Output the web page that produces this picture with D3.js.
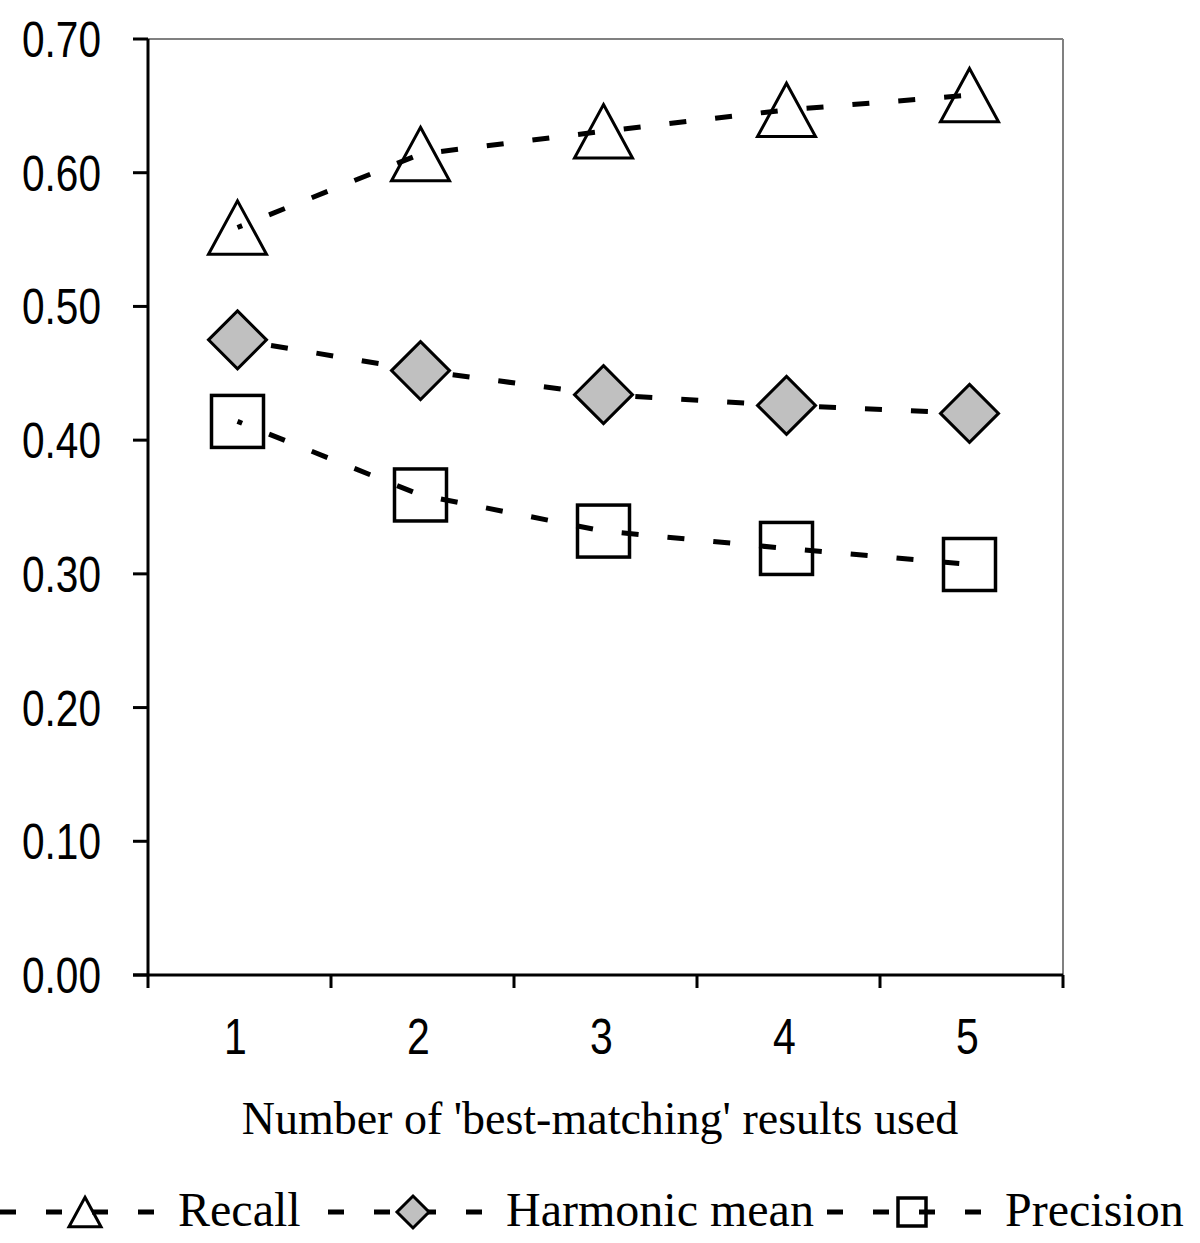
<!DOCTYPE html>
<html><head><meta charset="utf-8">
<script src="https://cdn.jsdelivr.net/npm/d3@7"></script>
<style>body{margin:0;background:#fff}</style>
</head><body>
<svg id="c" width="1200" height="1243"></svg>
<script>
const categories = [1, 2, 3, 4, 5];
const recall = [0.559, 0.614, 0.631, 0.647, 0.658];
const harmonic = [0.475, 0.452, 0.434, 0.426, 0.420];
const precision = [0.414, 0.359, 0.332, 0.319, 0.307];
const yTicks = [0, 0.1, 0.2, 0.3, 0.4, 0.5, 0.6, 0.7];
const seriesNames = ["Recall", "Harmonic mean", "Precision"];
const xTitle = "Number of 'best-matching' results used";

const svg = d3.select("#c");
const L = 148, R = 1063, T = 39, B = 975;
const x = d3.scaleBand().domain(categories).range([L, R]);
const y = d3.scaleLinear().domain([0, 0.7]).range([B, T]);
const numFont = "'Liberation Sans',Arial,sans-serif";
const serif = "'Liberation Serif','Times New Roman',serif";

// frame top/right gray
svg.append("line").attr("x1", L).attr("x2", R).attr("y1", T).attr("y2", T).attr("stroke", "#808080").attr("stroke-width", 2);
svg.append("line").attr("x1", R).attr("x2", R).attr("y1", T).attr("y2", B).attr("stroke", "#808080").attr("stroke-width", 2);

// y axis
const gy = svg.append("g");
gy.append("line").attr("x1", L).attr("x2", L).attr("y1", T).attr("y2", B).attr("stroke", "#000").attr("stroke-width", 3);
yTicks.forEach(v => {
  gy.append("line").attr("x1", L - 15).attr("x2", L).attr("y1", y(v)).attr("y2", y(v)).attr("stroke", "#000").attr("stroke-width", 3);
  gy.append("text").attr("x", 22).attr("y", y(v) + 18)
    .attr("textLength", 79).attr("lengthAdjust", "spacingAndGlyphs")
    .attr("font-family", numFont).attr("font-size", 50).text(v.toFixed(2));
});

// x axis
const gx = svg.append("g");
gx.append("line").attr("x1", L - 15).attr("x2", R).attr("y1", B).attr("y2", B).attr("stroke", "#000").attr("stroke-width", 3);
const bounds = categories.map(c => x(c)).concat([R]);
bounds.forEach(bx => {
  gx.append("line").attr("x1", bx).attr("x2", bx).attr("y1", B).attr("y2", B + 13).attr("stroke", "#000").attr("stroke-width", 3);
});
categories.forEach(c => {
  const tx = x(c) + x.bandwidth() / 2 - 4;
  gx.append("text").attr("transform", `translate(${tx},1054) scale(0.82,1)`).attr("text-anchor", "middle")
    .attr("font-family", numFont).attr("font-size", 50).text(c);
});
svg.append("text").attr("x", 600).attr("y", 1134).attr("text-anchor", "middle")
  .attr("font-family", serif).attr("font-size", 46).text(xTitle);

const cx = c => x(c) + x.bandwidth() / 2 - 2;

function marker(g, type, px, py, s) {
  if (type === "tri") {
    const h = s * 0.92;
    g.append("path").attr("d", `M${px},${py - h/2}L${px + s/2},${py + h/2}L${px - s/2},${py + h/2}Z`)
      .attr("fill", "none").attr("stroke", "#000").attr("stroke-width", 3);
  } else if (type === "dia") {
    g.append("path").attr("d", `M${px},${py - s/2}L${px + s/2},${py}L${px},${py + s/2}L${px - s/2},${py}Z`)
      .attr("fill", "#c0c0c0").attr("stroke", "#000").attr("stroke-width", 3);
  } else {
    g.append("rect").attr("x", px - s/2).attr("y", py - s/2).attr("width", s).attr("height", s)
      .attr("fill", "none").attr("stroke", "#000").attr("stroke-width", 3.5);
  }
}

const series = [
  {vals: recall, type: "tri", size: 58},
  {vals: harmonic, type: "dia", size: 58},
  {vals: precision, type: "sq", size: 52}
];
const line = d3.line().x((d, i) => cx(categories[i])).y(d => y(d));
series.forEach(s => {
  svg.append("path").datum(s.vals).attr("d", line).attr("fill", "none")
    .attr("stroke", "#000").attr("stroke-width", 5).attr("stroke-dasharray", "17,29").attr("stroke-dashoffset", -34);
  const g = svg.append("g");
  s.vals.forEach((v, i) => marker(g, s.type, cx(categories[i]), y(v), s.size));
});

// legend
const legendMarkers = [85, 413, 912];
const ly = 1212;
series.forEach((s, i) => {
  const mx = legendMarkers[i];
  const g = svg.append("g");
  g.append("line").attr("x1", mx - 85).attr("x2", mx + 75).attr("y1", ly).attr("y2", ly)
    .attr("stroke", "#000").attr("stroke-width", 5).attr("stroke-dasharray", "16,30");
  marker(g, s.type, mx, ly, s.type === "sq" ? 28 : 32);
  g.append("text").attr("x", mx + 93).attr("y", ly + 14).attr("font-family", serif).attr("font-size", 48).text(seriesNames[i]);
});
</script>
</body></html>
